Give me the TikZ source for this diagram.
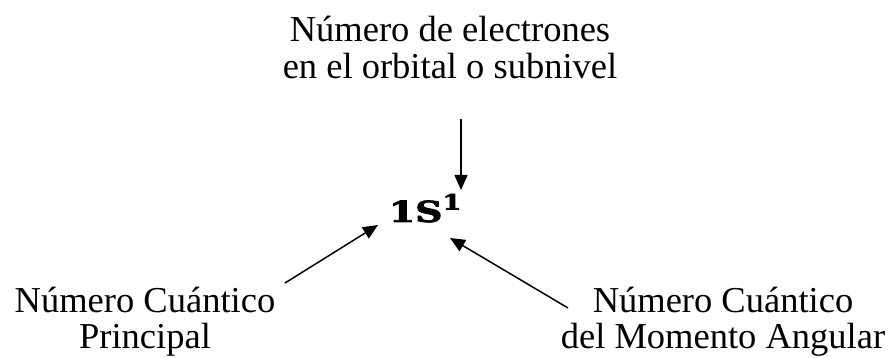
\documentclass[tikz,border=0pt]{standalone}
\usepackage{fontspec}
\setmainfont{Liberation Serif}
\newfontfamily\dvserif{DejaVu Serif}[BoldFeatures={FakeBold=2.5}]
\usetikzlibrary{arrows.meta}
\begin{document}
\begin{tikzpicture}[x=1pt,y=1pt,
  lbl/.style={inner sep=0pt,outer sep=0pt,align=center,anchor=base,
    font=\fontsize{36.5}{36.5}\selectfont},
  arr/.style={line width=1.5pt,-{Triangle[length=15pt,width=13pt]}}]
\path[use as bounding box] (0,0) rectangle (893,358);
\node[lbl] (top) at (450,279.5) {Número de electrones\\en el orbital o subnivel};
\node[lbl] (left) at (145,9) {Número Cuántico\\Principal};
\node[lbl] (right) at (723,9) {Número Cuántico\\del Momento Angular};
\node[inner sep=0pt,outer sep=0pt,anchor=base west] (sym) at (389,136)
  {\scalebox{1.3}[1]{\dvserif\bfseries\fontsize{29}{31}\selectfont 1S\raisebox{12.5pt}{\fontsize{21}{22}\selectfont 1}}};
\coordinate (vs) at (461,239);
\coordinate (ve) at (461,168);
\coordinate (ls) at (285,75);
\coordinate (le) at (378,133);
\coordinate (rs) at (568,50);
\coordinate (re) at (450,120);
\draw[arr] (vs) -- (ve);
\draw[arr] (ls) -- (le);
\draw[arr] (rs) -- (re);
\end{tikzpicture}
\end{document}
